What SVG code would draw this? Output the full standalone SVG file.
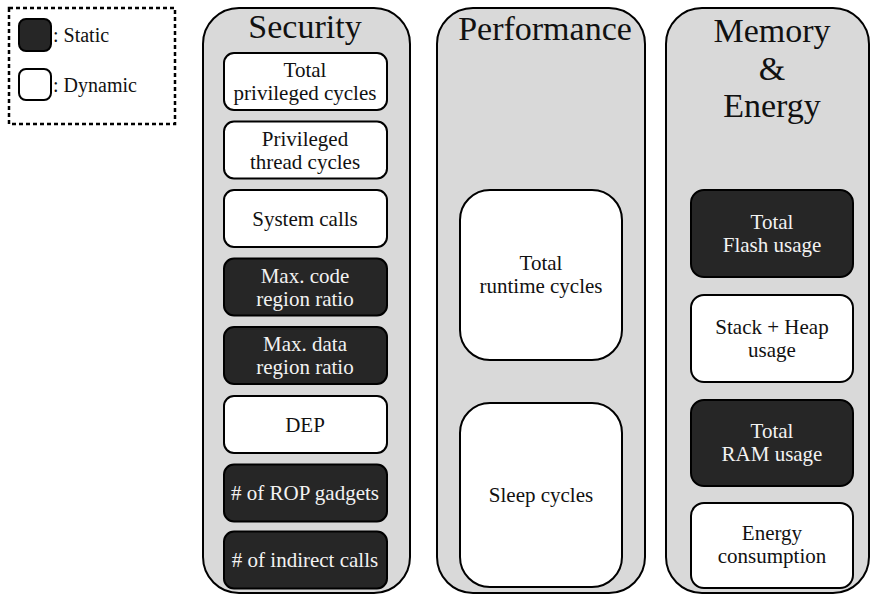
<svg xmlns="http://www.w3.org/2000/svg" width="873" height="596" viewBox="0 0 873 596">
<style>
text{font-family:"Liberation Serif","Times New Roman",Times,serif;text-anchor:middle;fill:#111}
.col{fill:#d9d9d9;stroke:#000;stroke-width:2}
.title{font-size:34px}
.dyn{fill:#fff;stroke:#000;stroke-width:2}
.sta{fill:#262626;stroke:#000;stroke-width:2}
.t{font-size:21px}
.w{fill:#f2f2f2}
.leg{font-size:20px;text-anchor:start}
</style>
<rect width="873" height="596" fill="#fff"/>
<g id="legend">
<rect x="9" y="8" width="166" height="116" fill="none" stroke="#000" stroke-width="2.5" stroke-dasharray="4,3"/>
<rect x="19" y="19" width="32" height="32" rx="7" class="sta"/>
<text x="53" y="42" class="leg">: Static</text>
<rect x="19" y="69" width="32" height="31" rx="7" class="dyn" stroke-width="2.5"/>
<text x="53" y="92" class="leg">: Dynamic</text>
</g>
<g id="security">
<rect x="203" y="8" width="207" height="585" rx="36" class="col"/>
<text x="305" y="38" class="title">Security</text>
</g>
<g id="performance">
<rect x="437" y="8" width="208" height="585" rx="36" class="col"/>
<text x="545" y="40" class="title">Performance</text>
</g>
<g id="memory">
<rect x="666" y="8" width="203" height="585" rx="36" class="col"/>
<text x="772" y="42" class="title">Memory</text>
<text x="772" y="80" class="title">&amp;</text>
<text x="772" y="117" class="title">Energy</text>
</g>
<g id="n1"><rect x="224" y="53" width="163" height="57" rx="10" class="dyn"/><text x="305" y="77" class="t">Total</text><text x="305" y="100" class="t">privileged cycles</text></g>
<g id="n2"><rect x="224" y="121.5" width="163" height="57" rx="10" class="dyn"/><text x="305" y="145.5" class="t">Privileged</text><text x="305" y="168.5" class="t">thread cycles</text></g>
<g id="n3"><rect x="224" y="190" width="163" height="57" rx="10" class="dyn"/><text x="305" y="225.5" class="t">System calls</text></g>
<g id="n4"><rect x="224" y="258.5" width="163" height="57" rx="10" class="sta"/><text x="305" y="282.5" class="t w">Max. code</text><text x="305" y="305.5" class="t w">region ratio</text></g>
<g id="n5"><rect x="224" y="327" width="163" height="57" rx="10" class="sta"/><text x="305" y="351" class="t w">Max. data</text><text x="305" y="374" class="t w">region ratio</text></g>
<g id="n6"><rect x="224" y="396" width="163" height="57" rx="10" class="dyn"/><text x="305" y="431.5" class="t">DEP</text></g>
<g id="n7"><rect x="224" y="464.5" width="163" height="57" rx="10" class="sta"/><text x="305" y="500" class="t w"># of ROP gadgets</text></g>
<g id="n8"><rect x="224" y="531.5" width="163" height="57" rx="10" class="sta"/><text x="305" y="567" class="t w"># of indirect calls</text></g>
<g id="p1"><rect x="460" y="190" width="162" height="170" rx="30" class="dyn"/><text x="541" y="270" class="t">Total</text><text x="541" y="293" class="t">runtime cycles</text></g>
<g id="p2"><rect x="460" y="403" width="162" height="184" rx="30" class="dyn"/><text x="541" y="502" class="t">Sleep cycles</text></g>
<g id="m1"><rect x="691" y="190" width="162" height="87" rx="13" class="sta"/><text x="772" y="229" class="t w">Total</text><text x="772" y="252" class="t w">Flash usage</text></g>
<g id="m2"><rect x="691" y="295" width="162" height="87" rx="13" class="dyn"/><text x="772" y="334" class="t">Stack + Heap</text><text x="772" y="357" class="t">usage</text></g>
<g id="m3"><rect x="691" y="400" width="162" height="86" rx="13" class="sta"/><text x="772" y="438" class="t w">Total</text><text x="772" y="461" class="t w">RAM usage</text></g>
<g id="m4"><rect x="691" y="503" width="162" height="85" rx="13" class="dyn"/><text x="772" y="540" class="t">Energy</text><text x="772" y="563" class="t">consumption</text></g>
<g id="connectors"></g>
</svg>
